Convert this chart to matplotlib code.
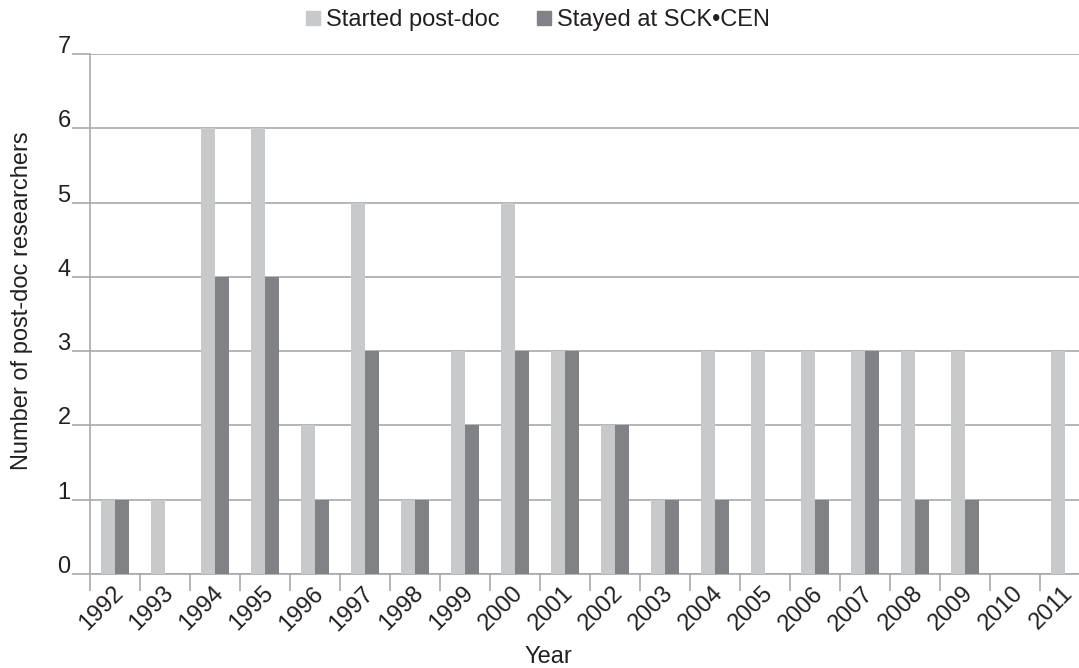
import matplotlib
matplotlib.use("Agg")
import matplotlib.pyplot as plt
import matplotlib.transforms as mtransforms
from matplotlib.lines import Line2D
import numpy as np

years = ["1992", "1993", "1994", "1995", "1996", "1997", "1998", "1999", "2000", "2001",
         "2002", "2003", "2004", "2005", "2006", "2007", "2008", "2009", "2010", "2011"]
started = [1, 1, 6, 6, 2, 5, 1, 3, 5, 3, 2, 1, 3, 3, 3, 3, 3, 3, 0, 3]
stayed = [1, 0, 4, 4, 1, 3, 1, 2, 3, 3, 2, 1, 1, 0, 1, 3, 1, 1, 0, 0]

plt.rcParams['font.family'] = ['Liberation Sans', 'DejaVu Sans']
TXT = '#231f20'
LIGHT = '#c8c9cb'
DARK = '#808285'
GRID = '#a7a9ac'
FS = 17
W, H = 1079, 668

fig = plt.figure(figsize=(W/100, H/100), dpi=100)
ax = fig.add_axes([90/W, (H-574)/H, 1 - 90/W, (574-54)/H])

x = np.arange(len(years))
w = 0.28
ax.bar(x - w/2, started, width=w, color=LIGHT, zorder=3)
ax.bar(x + w/2, stayed, width=w, color=DARK, zorder=3)

ax.set_xlim(-0.5, -0.5 + 989/50)
ax.set_ylim(0, 7)
ax.set_yticks(range(0, 8))
ax.set_yticklabels([str(v) for v in range(0, 8)], fontsize=FS, color=TXT, va='baseline')
ax.yaxis.grid(True, color=GRID, linewidth=1.2, zorder=0)
ax.tick_params(axis='y', length=13, width=1.2, color=GRID, pad=1)
for lab in ax.get_yticklabels():
    lab.set_transform(lab.get_transform() + mtransforms.ScaledTranslation(0, 1/100, fig.dpi_scale_trans))

ax.set_xticks(x)
ax.set_xticklabels(years, rotation=45, ha='right', va='top', rotation_mode='anchor',
                   fontsize=FS, color=TXT)
ax.tick_params(axis='x', which='major', length=0, pad=6)
ax.set_xticks(np.arange(len(years)) - 0.5, minor=True)
ax.tick_params(axis='x', which='minor', length=12, width=1.2, color=GRID)
for lab in ax.get_xticklabels():
    lab.set_transform(lab.get_transform() + mtransforms.ScaledTranslation(-3/100, 0, fig.dpi_scale_trans))

for s in ['top', 'right']:
    ax.spines[s].set_visible(False)
for s in ['left', 'bottom']:
    ax.spines[s].set_color(GRID)
    ax.spines[s].set_linewidth(1.2)

fig.text(28/W, 1 - 301/H, 'Number of post-doc researchers', rotation=90, fontsize=FS,
         color=TXT, ha='center', va='baseline', rotation_mode='anchor')
fig.text(548/W, 1 - 663/H, 'Year', fontsize=FS, color=TXT, ha='center', va='baseline')

handles = [Line2D([], [], marker='s', linestyle='none', markersize=9.5, color=LIGHT),
           Line2D([], [], marker='s', linestyle='none', markersize=9.5, color=DARK)]
fig.legend(handles, ['Started post-doc', 'Stayed at SCK•CEN'], loc='center',
           bbox_to_anchor=(538/W, 1 - 20/H), ncol=2, frameon=False, fontsize=FS,
           handletextpad=0.25, columnspacing=1.6, handlelength=0.6, labelcolor=TXT,
           borderpad=0, borderaxespad=0)

fig.savefig('out.png', dpi=100)
